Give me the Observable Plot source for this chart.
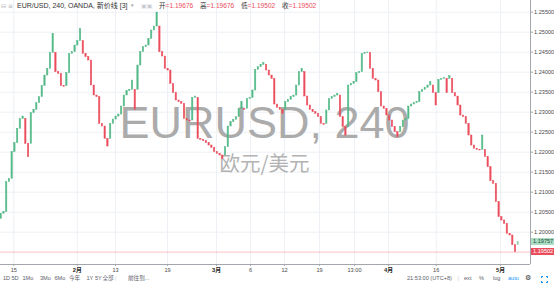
<!DOCTYPE html>
<html><head><meta charset="utf-8">
<script src="https://cdn.jsdelivr.net/npm/d3@7"></script>
<script src="https://cdn.jsdelivr.net/npm/@observablehq/plot@0.6"></script>
<style>
body{margin:0;background:#fff;font-family:"Liberation Sans","Noto Sans CJK SC",sans-serif;}
#wrap{position:relative;width:554px;height:285px;overflow:hidden;background:#fff;}
#wrap svg{position:absolute;left:0;top:0;}
.abs{position:absolute;white-space:nowrap;line-height:1;}
</style></head><body><div id="wrap"></div>
<script>
// ---- data ----
const firstOpen = 1.20333;
const closes = [
1.20458,1.20500,1.21250,1.21333,1.22000,1.22225,1.22583,1.22825,1.22892,1.22208,
1.21875,1.22975,1.23058,1.23225,1.23375,1.23650,1.23917,1.24083,1.24483,1.24958,
1.24000,1.23958,1.23650,1.23633,1.23975,1.24458,1.24500,1.24667,1.24775,1.25083,
1.24458,1.24375,1.24292,1.23667,1.23417,1.23375,1.22708,1.22642,1.22333,1.22142,
1.22708,1.22817,1.22892,1.22942,1.23142,1.23417,1.23525,1.23558,1.23792,1.23058,
1.24167,1.24500,1.24625,1.24667,1.24833,1.25042,1.25142,1.25492,1.24500,1.24392,
1.24083,1.24042,1.23708,1.23475,1.23292,1.23250,1.23208,1.22833,1.22792,1.22767,
1.23358,1.23392,1.22333,1.22308,1.22275,1.22225,1.22167,1.22108,1.22000,1.21958,
1.21917,1.21833,1.22125,1.22642,1.22750,1.22808,1.22875,1.23083,1.23250,1.23058,
1.23333,1.23358,1.23542,1.24058,1.24125,1.24183,1.24225,1.24042,1.23917,1.23833,
1.23192,1.23108,1.23058,1.22958,1.23250,1.23308,1.23375,1.23417,1.23667,1.24000,
1.24083,1.23392,1.23167,1.23058,1.23000,1.22958,1.22875,1.22708,1.22683,1.23042,
1.23333,1.23375,1.23417,1.23458,1.22875,1.22625,1.22417,1.23667,1.23708,1.23750,
1.23975,1.24000,1.24458,1.24483,1.24492,1.24083,1.23833,1.23792,1.23500,1.23142,
1.23083,1.22917,1.22792,1.22625,1.22500,1.22375,1.22625,1.22792,1.22833,1.23142,
1.23192,1.23225,1.23250,1.23500,1.23558,1.23608,1.23667,1.23750,1.23475,1.23167,
1.23808,1.23833,1.23858,1.23475,1.23900,1.23475,1.23392,1.23167,1.22917,1.22875,
1.22708,1.22417,1.22167,1.22083,1.22058,1.22042,1.22417,1.21875,1.21625,1.21275,
1.21208,1.20750,1.20375,1.20292,1.20208,1.19958,1.19917,1.19676,1.19502,1.19757];
const yTicks = [1.200,1.205,1.210,1.215,1.220,1.225,1.230,1.235,1.240,1.245,1.250,1.255];
const xTickPos = [4.61,27.78,41.78,60.79,78.7,91.13,103.56,116.35,129.14,141.57,159.0,182.5];
const xTickLabels = ["15","2月","13","19","3月","6","12","19","13:00","4月","16","5月"];
const legendKeys = ["开","高","低","收"];
const legendVals = [1.19676,1.19676,1.19502,1.19502];
const lastPrice = 1.19502;
const livePrice = 1.19757;
const toolbarLeft = ["1D","5D","1Mo","3Mo","6Mo","今年","1Y","5Y","全部","前往到..."];
const toolbarRight = ["21:53:00 (UTC+8)","ext","%","log","auto"];

const GREEN = "#53b987", RED = "#eb4d5c";

// line-break boxes: reversal opens at previous open, continuation at previous close
const bars = [];
let prevDir = 1, prevOpen = firstOpen, prevClose = null;
closes.forEach((c, i) => {
  let open, dir;
  if (i === 0) { open = firstOpen; dir = c >= open ? 1 : -1; }
  else { dir = c > prevClose ? 1 : -1; open = dir === prevDir ? prevClose : prevOpen; }
  bars.push({i, open, close: c, dir, live: i === closes.length - 1});
  prevDir = dir; prevOpen = open; prevClose = c;
});
const xt = xTickPos.map((p, k) => ({pos: p, label: xTickLabels[k], month: xTickLabels[k].includes("月")}));

const XD = [-0.26, 193.47];
const plot = Plot.plot({
  width: 554, height: 275,
  marginTop: 0, marginLeft: 0, marginRight: 24, marginBottom: 11,
  style: {fontFamily: "Liberation Sans, Noto Sans CJK SC, sans-serif", fontSize: "5.6px", color: "#4a4a4a", background: "transparent", overflow: "visible"},
  x: {domain: XD, axis: null, label: null},
  y: {domain: [1.191925, 1.257925], axis: null, label: null},
  marks: [
    Plot.ruleY(yTicks, {stroke: "#edf0f5"}),
    Plot.ruleX(xTickPos, {stroke: "#edf0f5"}),
    Plot.text(["EURUSD, 240"], {text: d => d, frameAnchor: "top-left", dx: 264, dy: 137, textAnchor: "middle", lineAnchor: "bottom", fontSize: 45, fill: "#ababab", fontFamily: "Liberation Sans"}),
    Plot.text(["欧元/美元"], {text: d => d, frameAnchor: "top-left", dx: 264, dy: 170, textAnchor: "middle", lineAnchor: "bottom", fontSize: 20.5, fill: "#b3b3b3", fontFamily: "Noto Sans CJK SC"}),
    Plot.ruleY([lastPrice], {stroke: RED, strokeOpacity: 0.35}),
    Plot.rect(bars, {
      x1: d => d.i - 0.25, x2: d => d.i + 0.25, y1: "open", y2: "close",
      fill: d => d.dir > 0 ? GREEN : RED, stroke: d => d.dir > 0 ? GREEN : RED,
      strokeWidth: 0.5, fillOpacity: d => d.live ? 0.55 : 1, strokeOpacity: d => d.live ? 0.55 : 1
    }),
    Plot.ruleX([XD[1]], {stroke: "#a3a6ad"}),
    Plot.ruleY([1.191925], {stroke: "#a3a6ad"}),
    Plot.axisY({anchor: "right", label: null, ticks: yTicks, tickFormat: d => d.toFixed(5), tickSize: 2, tickPadding: 1.5, stroke: "#a3a6ad", fill: "#4a4a4a", fontSize: 5.6}),
    Plot.axisX({anchor: "bottom", label: null, ticks: xTickPos, tickFormat: () => "", tickSize: 2, stroke: "#a3a6ad"}),
    Plot.text(xt.filter(d => !d.month), {x: "pos", text: "label", frameAnchor: "bottom", dy: 5.5, lineAnchor: "middle", fontSize: 5.6, fill: "#4a4a4a"}),
    Plot.text(xt.filter(d => d.month), {x: "pos", text: "label", frameAnchor: "bottom", dy: 5.5, lineAnchor: "middle", fontSize: 5.8, fontWeight: "bold", fill: "#222"})
  ]
});
const wrap = document.getElementById("wrap");
wrap.appendChild(plot);

const ys = plot.scale("y");
function tag(v, bg, fg) {
  const d = document.createElement("div");
  d.className = "abs";
  d.textContent = v.toFixed(5);
  const y = ys.apply(v);
  Object.assign(d.style, {left: "531px", top: (y - 3.2) + "px", width: "23px", height: "6.4px", background: bg, color: fg,
    fontSize: "5.6px", lineHeight: "6.4px", paddingLeft: "2px", boxSizing: "border-box"});
  wrap.appendChild(d);
}
tag(livePrice, "#a9dcc3", "#1e4d36");
tag(lastPrice, RED, "#fff");

// title legend
function txt(s, x, y, size, color, extra) {
  const d = document.createElement("div");
  d.className = "abs";
  d.textContent = s;
  Object.assign(d.style, {left: x + "px", top: y + "px", fontSize: size + "px", color}, extra || {});
  wrap.appendChild(d);
  return d;
}
txt("⊟ ≡", 1, 2.5, 6, "#b0b3ba", {fontFamily: "DejaVu Sans"});
txt("EUR/USD, 240, OANDA, 新价线 [3]", 17, 2.3, 7, "#333");
txt("▾", 131, 3, 5, "#999", {fontFamily: "DejaVu Sans"});
txt("▣▣", 141, 2.5, 6, "#c8cad0", {fontFamily: "DejaVu Sans"});
legendKeys.forEach((k, j) => {
  const d = txt(k, 159 + j * 41, 2.5, 6.6, "#333");
  const s = document.createElement("span");
  s.textContent = "=" + legendVals[j].toFixed(5);
  s.style.color = RED;
  d.appendChild(s);
});

// bottom toolbar
const leftX = [3, 11.5, 22.5, 40, 54.5, 69, 86.5, 95, 102.5, 128];
toolbarLeft.forEach((s, j) => txt(s, leftX[j], 276.3, 5.6, "#5d606b"));
txt("|", 115, 276, 5.6, "#ccc");
const rightX = [407, 464, 479, 493, 508];
toolbarRight.forEach((s, j) => txt(s, rightX[j], 276.3, 5.6, j === 4 ? "#2196f3" : "#5d606b"));
txt("|", 457.5, 276, 5.6, "#ccc");
txt("⚙", 525, 275.3, 7, "#333", {fontFamily: "DejaVu Sans"});
// fullscreen icon: bordered square with gaps in the middle of each side
const fs = document.createElement("div");
Object.assign(fs.style, {position: "absolute", left: "541px", top: "276px", width: "5px", height: "5px", border: "1px solid #2196f3"});
wrap.appendChild(fs);
const g1 = document.createElement("div");
Object.assign(g1.style, {position: "absolute", left: "540px", top: "278px", width: "9px", height: "3px", background: "#fff"});
wrap.appendChild(g1);
const g2 = document.createElement("div");
Object.assign(g2.style, {position: "absolute", left: "543px", top: "275px", width: "3px", height: "9px", background: "#fff"});
wrap.appendChild(g2);
</script></body></html>
